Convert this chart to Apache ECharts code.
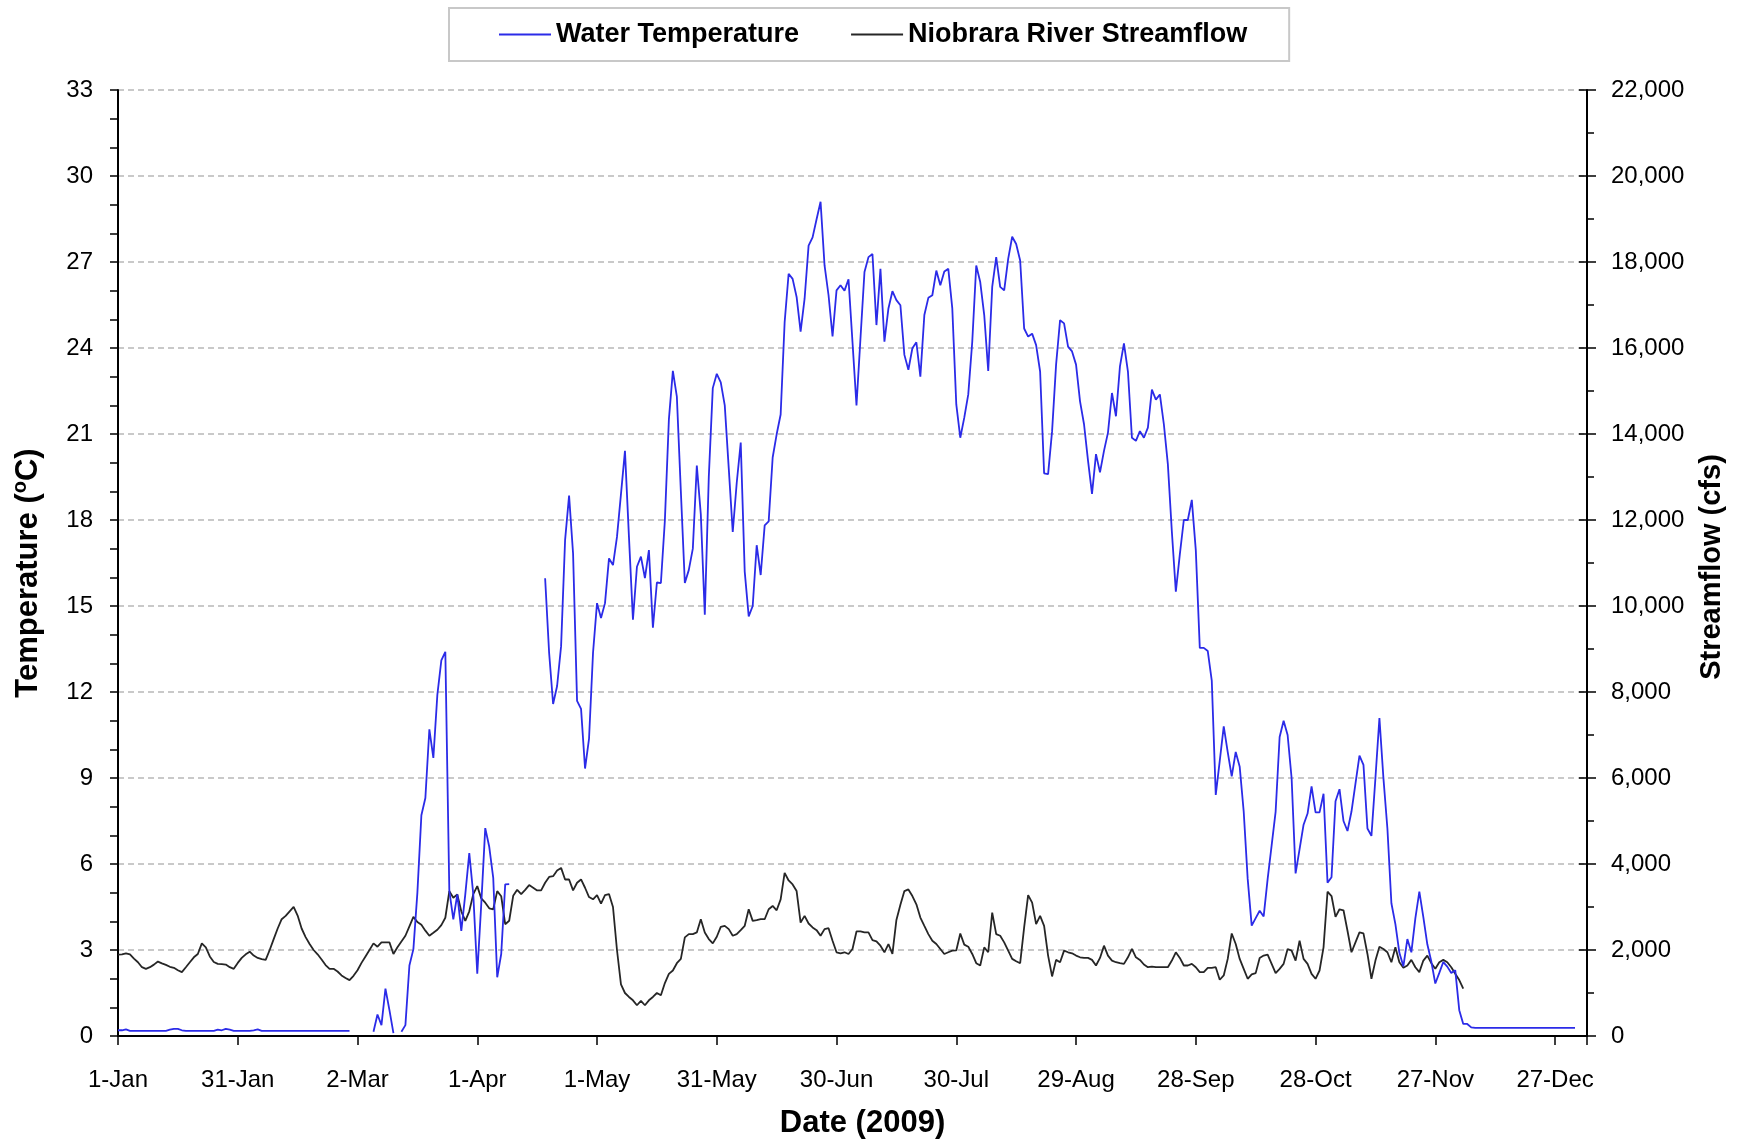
<!DOCTYPE html>
<html>
<head>
<meta charset="utf-8">
<script src="https://cdn.jsdelivr.net/npm/echarts@6/dist/echarts.min.js"></script>
<style>
html,body{margin:0;padding:0;background:#fff;}
#chart{width:1743px;height:1144px;}
</style>
</head>
<body>
<div id="chart"></div>
<script>
// Day index 0 = 1-Jan-2009
const xTickDays = [0,30,60,90,120,150,180,210,240,270,300,330,360];
const yLeftTicks = [0,3,6,9,12,15,18,21,24,27,30,33];
const yRightTicks = [0,2000,4000,6000,8000,10000,12000,14000,16000,18000,20000,22000];

// Water temperature (deg C), one value per day starting 1-Jan (null = no record)
const waterTemp = [
0.2,0.2,0.23,0.18,0.18,0.18,0.18,0.18,0.18,0.18,
0.18,0.18,0.18,0.22,0.25,0.25,0.2,0.18,0.18,0.18,
0.18,0.18,0.18,0.18,0.18,0.22,0.2,0.25,0.22,0.18,
0.18,0.18,0.18,0.18,0.2,0.23,0.18,0.18,0.18,0.18,
0.18,0.18,0.18,0.18,0.18,0.18,0.18,0.18,0.18,0.18,
0.18,0.18,0.18,0.18,0.18,0.18,0.18,0.18,0.18,null,
null,null,null,null,0.15,0.75,0.38,1.65,0.9,0.1,
null,0.15,0.38,2.46,3.03,5.0,7.7,8.3,10.7,9.7,
11.9,13.1,13.4,5.06,4.07,4.94,3.67,4.94,6.38,4.94,
2.17,4.6,7.25,6.6,5.52,2.05,2.86,5.29,5.3,null,
null,null,null,null,null,null,null,15.97,13.37,11.58,
12.21,13.6,17.3,18.85,16.83,11.69,11.41,9.33,10.37,13.37,
15.1,14.58,15.1,16.66,16.43,17.41,18.9,20.41,17.41,14.52,
16.37,16.72,15.97,16.95,14.24,15.82,15.8,17.99,21.5,23.2,
22.3,19.0,15.8,16.26,17.0,19.9,18.2,14.7,19.5,22.6,
23.1,22.8,22.0,19.8,17.58,19.3,20.7,16.2,14.64,15.0,
17.12,16.08,17.81,17.95,20.18,20.99,21.68,24.9,26.59,26.41,
25.78,24.57,25.72,27.57,27.86,28.49,29.1,26.88,25.84,24.4,
26.01,26.19,26.0,26.4,24.2,22.0,24.34,26.65,27.17,27.28,
24.8,26.76,24.22,25.38,25.98,25.67,25.49,23.76,23.24,23.99,
24.2,23.0,25.15,25.75,25.84,26.7,26.19,26.67,26.76,25.38,
22.03,20.87,21.57,22.38,24.22,26.88,26.3,25.15,23.2,26.13,
27.17,26.13,26.01,27.11,27.88,27.63,27.05,24.68,24.4,24.5,
24.1,23.18,19.63,19.6,21.1,23.42,24.97,24.86,24.05,23.88,
23.42,22.14,21.34,20.07,18.91,20.3,19.66,20.41,21.05,22.43,
21.62,23.36,24.16,23.18,20.87,20.76,21.1,20.87,21.22,22.55,
22.2,22.38,21.34,19.95,17.6,15.5,16.8,18.0,18.0,18.7,
16.95,13.54,13.54,13.43,12.4,8.41,9.6,10.8,9.9,9.06,
9.91,9.39,7.83,5.48,3.85,4.11,4.37,4.17,5.48,6.65,
7.83,10.43,11.0,10.5,9.0,5.67,6.52,7.37,7.76,8.71,
7.8,7.8,8.45,5.35,5.54,8.19,8.61,7.5,7.15,7.83,
8.8,9.78,9.46,7.24,6.98,9.0,11.09,9.0,7.24,4.63,
3.9,2.9,2.43,3.38,2.92,4.1,5.04,4.15,3.2,2.6,
1.83,2.2,2.58,2.42,2.2,2.29,0.9,0.42,0.42,0.3,
0.28,0.28,0.28,0.28,0.28,0.28,0.28,0.28,0.28,0.28,
0.28,0.28,0.28,0.28,0.28,0.28,0.28,0.28,0.28,0.28,
0.28,0.28,0.28,0.28,0.28,0.28
];

// Niobrara River streamflow (cfs), one value per day starting 1-Jan
const streamflow = [
1893,1900,1924,1900,1800,1716,1600,1562,1600,1660,
1731,1690,1654,1610,1585,1530,1485,1600,1716,1830,
1908,2154,2062,1850,1720,1677,1670,1662,1600,1562,
1700,1816,1900,1962,1870,1816,1790,1770,2000,2254,
2500,2716,2793,2900,3001,2800,2500,2300,2139,2000,
1900,1780,1650,1562,1562,1500,1408,1350,1300,1400,
1530,1700,1850,2000,2154,2077,2177,2177,2177,1908,
2062,2200,2331,2550,2770,2650,2585,2450,2331,2400,
2470,2580,2750,3370,3216,3293,2900,2677,2900,3300,
3486,3200,3100,2970,2947,3370,3250,2600,2680,3260,
3400,3300,3400,3509,3450,3386,3386,3563,3700,3717,
3850,3909,3640,3640,3386,3563,3640,3448,3232,3178,
3278,3078,3278,3300,3000,2000,1200,1000,908,830,
715,815,715,830,908,1000,946,1231,1446,1523,
1693,1793,2293,2370,2370,2408,2716,2408,2254,2154,
2308,2539,2562,2485,2331,2370,2462,2562,2947,2678,
2693,2716,2716,2947,3024,2924,3178,3794,3617,3525,
3371,2639,2793,2616,2524,2462,2331,2485,2508,2216,
1947,1924,1947,1908,2024,2431,2431,2408,2408,2231,
2201,2100,1947,2139,1908,2700,3050,3370,3409,3255,
3063,2755,2562,2370,2216,2139,2024,1908,1947,1985,
1990,2385,2124,2077,1908,1693,1639,2062,1947,2870,
2370,2331,2177,1985,1793,1739,1693,2524,3278,3101,
2601,2793,2562,1870,1385,1770,1716,1985,1947,1924,
1870,1831,1816,1816,1770,1639,1816,2100,1870,1754,
1716,1693,1677,1831,2024,1831,1770,1662,1600,1616,
1600,1600,1600,1600,1754,1947,1816,1639,1639,1677,
1600,1485,1485,1585,1585,1600,1308,1408,1793,2385,
2139,1793,1562,1331,1431,1462,1816,1870,1893,1677,
1462,1562,1677,2024,1985,1754,2216,1793,1677,1446,
1331,1523,2062,3355,3255,2770,2947,2924,2447,1947,
2177,2408,2385,1908,1331,1754,2077,2024,1947,1716,
2062,1716,1585,1639,1770,1600,1485,1754,1870,1693,
1562,1716,1770,1716,1600,1446,1300,1100
];

const MONTHS = ['Jan','Feb','Mar','Apr','May','Jun','Jul','Aug','Sep','Oct','Nov','Dec'];
function dayLabel(d){
  const dt = new Date(Date.UTC(2009,0,1) + d*86400000);
  return dt.getUTCDate() + '-' + MONTHS[dt.getUTCMonth()];
}

const FONT = 'Liberation Sans';
const TICK_FS = 24;
const chart = echarts.init(document.getElementById('chart'), null, {renderer:'canvas'});
chart.setOption({
  animation:false,
  backgroundColor:'#ffffff',
  textStyle:{fontFamily:FONT},
  legend:{
    top:8, left:449,
    padding:[13,42,13,50],
    borderColor:'#c8c8c8', borderWidth:2,
    itemGap:52, itemWidth:52, itemHeight:2, icon:'rect',
    textStyle:{fontFamily:FONT, fontSize:27, fontWeight:'bold', color:'#000'},
    data:['Water Temperature','Niobrara River Streamflow']
  },
  grid:{left:118, right:156, top:90, bottom:105},
  xAxis:{
    type:'value', min:0, max:368, interval:30,
    axisLine:{show:true, lineStyle:{color:'#000', width:2}},
    axisTick:{show:true, length:9, lineStyle:{color:'#000', width:1.5}},
    axisLabel:{
      margin:32, fontSize:TICK_FS, color:'#000', fontFamily:FONT,
      formatter:function(v){ return xTickDays.indexOf(v) >= 0 ? dayLabel(v) : ''; }
    },
    splitLine:{show:false},
    name:'Date (2009)', nameLocation:'middle', nameGap:72,
    nameTextStyle:{fontSize:31, fontWeight:'bold', color:'#000', fontFamily:FONT, padding:[0,0,0,20]}
  },
  yAxis:[{
    type:'value', min:0, max:33, interval:3, position:'left',
    axisLine:{show:true, lineStyle:{color:'#000', width:2}},
    axisTick:{show:true, length:8, lineStyle:{color:'#000', width:1.5}},
    minorTick:{show:true, splitNumber:3, length:8, lineStyle:{color:'#000', width:1.5}},
    axisLabel:{margin:25, fontSize:TICK_FS, color:'#000', fontFamily:FONT,
      formatter:function(v){ return yLeftTicks.indexOf(v) >= 0 ? String(v) : ''; }},
    splitLine:{show:true, lineStyle:{color:'#b8b8b8', type:[6,4], width:1.5}},
    name:'{b|Temperature (}{s|o}{b|C)}', nameLocation:'middle', nameGap:72,
    nameTextStyle:{color:'#000', fontFamily:FONT, padding:[0,20,0,0],
      rich:{
        b:{fontSize:31, fontWeight:'bold', color:'#000', fontFamily:FONT, lineHeight:36},
        s:{fontSize:20, fontWeight:'bold', color:'#000', fontFamily:FONT, lineHeight:36, verticalAlign:'top'}
      }}
  },{
    type:'value', min:0, max:22000, interval:2000, position:'right',
    axisLine:{show:true, lineStyle:{color:'#000', width:2}},
    axisTick:{show:true, length:9, lineStyle:{color:'#000', width:1.5}},
    minorTick:{show:true, splitNumber:2, length:7, lineStyle:{color:'#000', width:1.5}},
    axisLabel:{margin:24, fontSize:TICK_FS, color:'#000', fontFamily:FONT,
      formatter:function(v){ return yRightTicks.indexOf(v) >= 0 ? v.toLocaleString('en-US') : ''; }},
    splitLine:{show:false},
    name:'Streamflow (cfs)', nameLocation:'middle', nameGap:110, nameRotate:90,
    nameTextStyle:{fontSize:29, fontWeight:'bold', color:'#000', fontFamily:FONT, padding:[0,8,0,0]}
  },{
    // inner half of the crossing major ticks on the streamflow axis
    type:'value', min:0, max:22000, interval:2000, position:'right', offset:0,
    axisLine:{show:false},
    axisTick:{show:true, inside:true, length:8, lineStyle:{color:'#000', width:1.5}},
    axisLabel:{show:false},
    splitLine:{show:false}
  }],
  series:[{
    name:'Water Temperature', type:'line', yAxisIndex:0,
    showSymbol:false, symbol:'none', connectNulls:false,
    lineStyle:{color:'#2b2be8', width:1.8}, itemStyle:{color:'#2b2be8'},
    data: waterTemp.map(function(v,i){ return [i, v]; }),
    z:3
  },{
    name:'Niobrara River Streamflow', type:'line', yAxisIndex:1,
    showSymbol:false, symbol:'none',
    lineStyle:{color:'#262626', width:1.8}, itemStyle:{color:'#262626'},
    data: streamflow.map(function(v,i){ return [i, v]; }),
    z:2
  }]
});
</script>
</body>
</html>
